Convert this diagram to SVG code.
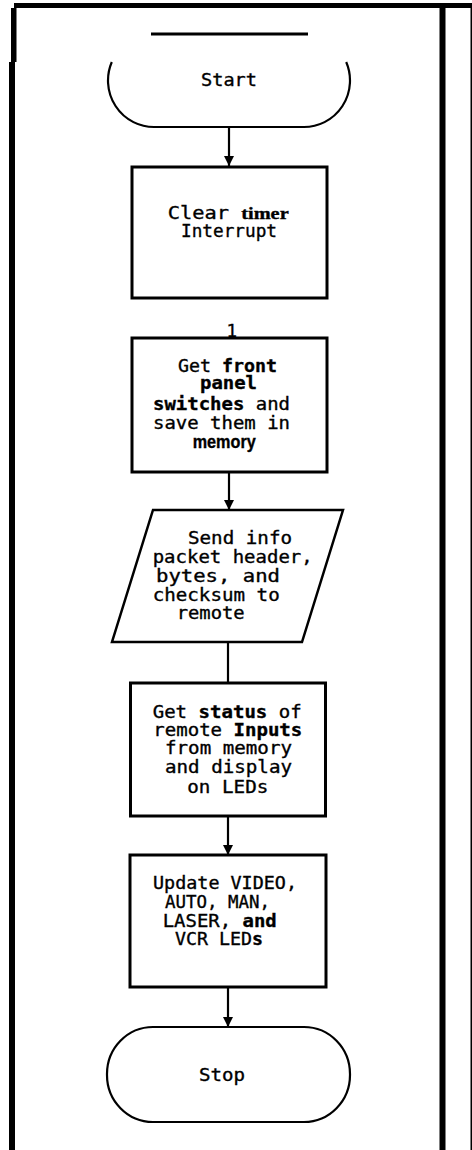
<svg xmlns="http://www.w3.org/2000/svg" width="472" height="1150" viewBox="0 0 472 1150">
<style>
  .frame{fill:#000;stroke:none}
  .box{fill:#fff;stroke:#000;stroke-width:3}
  .term{fill:#fff;stroke:#000;stroke-width:2.2}
  .conn{fill:none;stroke:#000;stroke-width:2.2}
  text{font-family:"DejaVu Sans Mono","Liberation Mono",monospace;font-size:17.5px;fill:#000;stroke:#000;stroke-width:0.35}
  .b{font-weight:bold}
  .sb{font-family:"Liberation Sans",Arial,sans-serif;font-weight:bold}
  .rb{font-family:"Liberation Serif","Times New Roman",serif;font-weight:bold}
</style>
<defs>
  <marker id="arr" markerUnits="userSpaceOnUse" markerWidth="10" markerHeight="12" refX="10" refY="5" orient="auto">
    <path d="M0,0 L10,5 L0,10 z" fill="#000"/>
  </marker>
</defs>
<rect width="472" height="1150" fill="#fff"/>
<g id="frame">
  <rect class="frame" x="14" y="3" width="458" height="5"/>
  <rect class="frame" x="11" y="8" width="5.5" height="54"/>
  <rect class="frame" x="9" y="62" width="6" height="1088"/>
  <rect class="frame" x="439.5" y="3" width="6" height="1147"/>
  <rect class="frame" x="470.5" y="3" width="1.5" height="1147"/>
</g>
<g id="connectors">
  <line class="conn" x1="229" y1="127" x2="229" y2="166" marker-end="url(#arr)"/>
  <line class="conn" x1="229" y1="472" x2="229" y2="510" marker-end="url(#arr)"/>
  <line class="conn" x1="228" y1="642" x2="228" y2="683"/>
  <line class="conn" x1="228" y1="816" x2="228" y2="855" marker-end="url(#arr)"/>
  <line class="conn" x1="228" y1="987" x2="228" y2="1027" marker-end="url(#arr)"/>
</g>
<g id="start">
  <line x1="151" y1="34" x2="308" y2="34" stroke="#000" stroke-width="3"/>
  <path class="term" d="M111.8,62 A46,46.5 0 0 0 154,127 L304,127 A46,46.5 0 0 0 346.2,62"/>
  <text x="201" y="86" textLength="56" lengthAdjust="spacingAndGlyphs">Start</text>
</g>
<g id="clear-timer">
  <rect class="box" x="132" y="167" width="195" height="131"/>
  <text x="167.7" y="219.3" textLength="121" lengthAdjust="spacingAndGlyphs">Clear <tspan class="rb">timer</tspan></text>
  <text x="181" y="237.3" textLength="96" lengthAdjust="spacingAndGlyphs">Interrupt</text>
</g>
<g id="get-switches">
  <text x="226.5" y="337" font-size="17">1</text>
  <rect class="box" x="132" y="338" width="195" height="134"/>
  <text x="178" y="371.7" textLength="99" lengthAdjust="spacingAndGlyphs">Get <tspan class="b">front</tspan></text>
  <text x="200" y="389.3" textLength="57" lengthAdjust="spacingAndGlyphs" class="b">panel</text>
  <text x="153" y="410" textLength="137" lengthAdjust="spacingAndGlyphs"><tspan class="b">switches</tspan> and</text>
  <text x="153" y="429.3" textLength="137" lengthAdjust="spacingAndGlyphs">save them in</text>
  <text x="192.7" y="447.7" class="sb" font-size="16" textLength="63" lengthAdjust="spacingAndGlyphs">memory</text>
</g>
<g id="send-info">
  <polygon points="153,510 343,510 302,642 112,642" fill="#fff" stroke="#000" stroke-width="2.5"/>
  <text x="188" y="544" textLength="104" lengthAdjust="spacingAndGlyphs">Send info</text>
  <text x="152.7" y="563.3" textLength="160" lengthAdjust="spacingAndGlyphs">packet header,</text>
  <text x="156" y="581.7" textLength="124" lengthAdjust="spacingAndGlyphs">bytes, and</text>
  <text x="152.7" y="601" textLength="127" lengthAdjust="spacingAndGlyphs">checksum to</text>
  <text x="176.7" y="619.3" textLength="68" lengthAdjust="spacingAndGlyphs">remote</text>
</g>
<g id="get-status">
  <rect class="box" x="130.5" y="683" width="195" height="133"/>
  <text x="152.7" y="718" textLength="149" lengthAdjust="spacingAndGlyphs">Get <tspan class="b">status</tspan> of</text>
  <text x="153.3" y="736" textLength="149" lengthAdjust="spacingAndGlyphs">remote <tspan class="b">Inputs</tspan></text>
  <text x="165" y="754" textLength="127" lengthAdjust="spacingAndGlyphs">from memory</text>
  <text x="165" y="773" textLength="127" lengthAdjust="spacingAndGlyphs">and display</text>
  <text x="187.3" y="793" textLength="81" lengthAdjust="spacingAndGlyphs">on LEDs</text>
</g>
<g id="update-leds">
  <rect class="box" x="130" y="855" width="196" height="132"/>
  <text x="153" y="889.3" textLength="144" lengthAdjust="spacingAndGlyphs">Update VIDEO,</text>
  <text x="165" y="908" textLength="105" lengthAdjust="spacingAndGlyphs">AUTO, MAN,</text>
  <text x="162.7" y="926.7" textLength="114" lengthAdjust="spacingAndGlyphs">LASER, <tspan class="b">and</tspan></text>
  <text x="175" y="945" textLength="88" lengthAdjust="spacingAndGlyphs">VCR LED<tspan class="b">s</tspan></text>
</g>
<g id="stop">
  <rect class="term" x="107" y="1027" width="243" height="95" rx="46" ry="47"/>
  <text x="199" y="1081" textLength="46" lengthAdjust="spacingAndGlyphs">Stop</text>
</g>
</svg>
